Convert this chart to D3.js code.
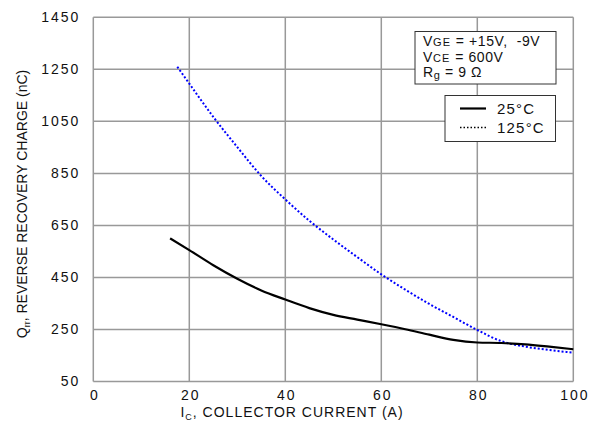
<!DOCTYPE html>
<html>
<head>
<meta charset="utf-8">
<script src="https://cdnjs.cloudflare.com/ajax/libs/d3/7.8.5/d3.min.js"></script>
<style>
  body { margin: 0; background: #fff; }
  svg { font-family: "Liberation Sans", Arial, sans-serif; }
</style>
</head>
<body>
<svg width="596" height="429"></svg>
<script>
// data
const xTicks = [0, 20, 40, 60, 80, 100];
const yTicks = [50, 250, 450, 650, 850, 1050, 1250, 1450];

const ic25 = [16, 20, 25, 30, 35, 40, 45, 50, 55, 60, 65, 70, 75, 80, 85, 90, 95, 100];
const qrr25 = [600, 555, 497, 445, 400, 365, 332, 306, 288, 270, 251, 230, 210, 200, 198, 193, 184, 174];

const ic125 = [17.5, 20, 25, 30, 35, 40, 45, 50, 55, 60, 65, 70, 75, 80, 85, 90, 95, 100];
const qrr125 = [1260, 1195, 1067, 951, 840, 750, 668, 596, 528, 462, 403, 348, 298, 248, 205, 184, 171, 161];

const conditions = ["V|GE| = +15V,\u00a0\u00a0-9V", "V|CE| = 600V", "R|g| = 9 Ω"];
const legendLabels = ["25°C", "125°C"];

const svg = d3.select("svg");
const grey = "#999999";

let xScale = d3.scaleLinear().domain([0, 100]).range([93.3, 573.3]);
let yScale = d3.scaleLinear().domain([50, 1450]).range([381.5, 17.3]);

// gridlines
svg.append("g").selectAll("line.vgrid")
  .data(xTicks)
  .join("line")
  .attr("class", "vgrid")
  .attr("x1", d => xScale(d)).attr("x2", d => xScale(d))
  .attr("y1", yScale(1450)).attr("y2", yScale(50))
  .attr("stroke", grey).attr("stroke-width", 1.5);

svg.append("g").selectAll("line.hgrid")
  .data(yTicks)
  .join("line")
  .attr("class", "hgrid")
  .attr("x1", xScale(0)).attr("x2", xScale(100))
  .attr("y1", d => yScale(d)).attr("y2", d => yScale(d))
  .attr("stroke", grey).attr("stroke-width", 1.5);

// axes (labels only)
let xAxis = d3.axisBottom(xScale).tickValues(xTicks).tickSize(0).tickPadding(9)
  .tickFormat(d3.format("d"));
svg.append("g")
  .attr("id", "xAxisG")
  .attr("transform", `translate(0, ${yScale(50)})`)
  .call(xAxis);

let yAxis = d3.axisLeft(yScale).tickValues(yTicks).tickSize(0).tickPadding(13)
  .tickFormat(d3.format("d"));
svg.append("g")
  .attr("id", "yAxisG")
  .attr("transform", `translate(${xScale(0)}, 0)`)
  .call(yAxis);

svg.selectAll(".domain").remove();
svg.selectAll(".tick text")
  .attr("font-size", 14)
  .attr("letter-spacing", 2)
  .attr("font-family", "Liberation Sans, Arial, sans-serif")
  .attr("fill", "#111");
d3.selectAll("#xAxisG .tick text").attr("dx", 1);

// curves
const line25 = d3.line()
  .x((d, i) => xScale(ic25[i]))
  .y(d => yScale(d))
  .curve(d3.curveMonotoneX);
const line125 = d3.line()
  .x((d, i) => xScale(ic125[i]))
  .y(d => yScale(d))
  .curve(d3.curveMonotoneX);

svg.append("path")
  .attr("d", line125(qrr125))
  .attr("fill", "none")
  .attr("stroke", "#0000ff")
  .attr("stroke-width", 2)
  .attr("stroke-dasharray", "2,2");

svg.append("path")
  .attr("d", line25(qrr25))
  .attr("fill", "none")
  .attr("stroke", "#000")
  .attr("stroke-width", 2.2);

// axis titles
let xTitle = svg.append("text")
  .attr("x", 292).attr("y", 416.5)
  .attr("text-anchor", "middle")
  .attr("font-size", 14)
  .attr("letter-spacing", 1)
  .attr("fill", "#111");
xTitle.append("tspan").text("I");
xTitle.append("tspan").attr("font-size", 9).attr("dy", 3).text("C");
xTitle.append("tspan").attr("dy", -3).text(", COLLECTOR CURRENT (A)");

let yTitle = svg.append("text")
  .attr("transform", "translate(27, 204) rotate(-90)")
  .attr("text-anchor", "middle")
  .attr("font-size", 14)
  .attr("fill", "#111");
yTitle.append("tspan").text("Q");
yTitle.append("tspan").attr("font-size", 9).attr("dy", 3).text("rr");
yTitle.append("tspan").attr("dy", -3).text(", REVERSE RECOVERY CHARGE (nC)");

// conditions box
svg.append("rect")
  .attr("x", 415).attr("y", 31.5).attr("width", 141).attr("height", 52.5)
  .attr("fill", "#fff").attr("stroke", "#333").attr("stroke-width", 1);

conditions.forEach((c, i) => {
  const parts = c.split("|");
  let t = svg.append("text")
    .attr("x", 423).attr("y", 46.3 + i * 15.4)
    .attr("font-size", 14)
    .attr("letter-spacing", 0.6)
    .attr("fill", "#111");
  t.append("tspan").text(parts[0]);
  if (i < 2) {
    t.append("tspan").attr("font-size", 11).attr("letter-spacing", 1.2).text(parts[1]);
    t.append("tspan").text(parts[2]);
  } else {
    t.append("tspan").attr("font-size", 11).attr("dy", 2).text(parts[1]);
    t.append("tspan").attr("dy", -2).text(parts[2]);
  }
});

// legend box
svg.append("rect")
  .attr("x", 445).attr("y", 95.5).attr("width", 110.5).attr("height", 46)
  .attr("fill", "#fff").attr("stroke", "#333").attr("stroke-width", 1);

legendLabels.forEach((lab, i) => {
  const y = 108.5 + i * 19;
  svg.append("line")
    .attr("x1", 460).attr("x2", 486)
    .attr("y1", y).attr("y2", y)
    .attr("stroke", "#000")
    .attr("stroke-width", i == 0 ? 2.2 : 1.5)
    .attr("stroke-dasharray", i == 0 ? null : "1.5,2");
  svg.append("text")
    .attr("x", 497).attr("y", y + 5)
    .attr("font-size", 15)
    .attr("letter-spacing", 1.2)
    .attr("fill", "#111")
    .text(lab);
});
</script>
</body>
</html>
